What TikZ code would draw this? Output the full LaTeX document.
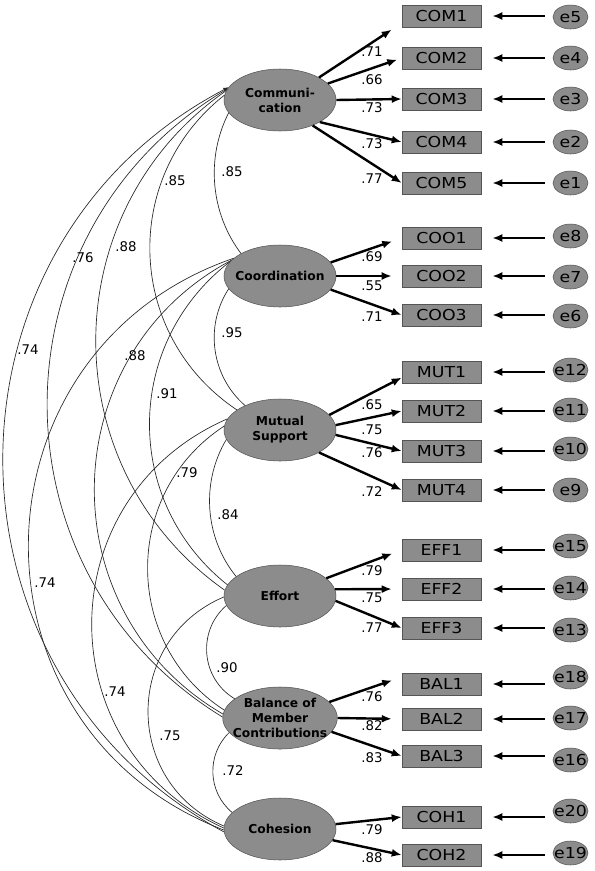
\documentclass[tikz,border=0pt]{standalone}
\usepackage{fontspec}
\setmainfont{DejaVu Sans}
\newfontfamily\boxfont[FakeStretch=1.15]{DejaVu Sans}
\usetikzlibrary{arrows.meta,shapes.geometric}

\definecolor{semgray}{RGB}{140,140,140}
\definecolor{semedge}{RGB}{85,85,85}

\tikzset{
  latent/.style={ellipse, draw=semedge, fill=semgray, minimum width=84pt,
    minimum height=46.5pt, inner xsep=-5pt, inner ysep=-1pt, align=center,
    font=\bfseries\fontsize{9.2}{11.25}\selectfont},
  ind/.style={rectangle, draw=semedge, fill=semgray, minimum width=59.25pt,
    minimum height=16.5pt, inner sep=0pt, font=\boxfont\fontsize{11.3}{13}\selectfont},
  errnode/.style={ellipse, draw=semedge, fill=semgray, minimum width=26.25pt,
    minimum height=18pt, inner xsep=-4pt, inner ysep=0pt,
    font=\boxfont\fontsize{11.3}{13}\selectfont},
  loadarr/.style={line width=1.8pt, -{Latex[length=7.5pt,width=6pt]}},
  errarr/.style={line width=1.6pt, -{Latex[length=7.5pt,width=6pt]},
    shorten <=6pt, shorten >=8.25pt},
  corrarc/.style={line width=0.5pt, black!85},
  numlbl/.style={inner sep=0pt, font=\fontsize{10}{12}\selectfont}
}

\begin{document}
\begin{tikzpicture}[x=0.75pt, y=0.75pt]
  \useasboundingbox (0,0) rectangle (594,-871);

  % latent factors
  \node[latent] (com) at (280,-100) {Communi-\\cation};
  \node[latent] (coo) at (280,-276) {Coordination};
  \node[latent] (mut) at (280,-430) {Mutual\\Support};
  \node[latent] (eff) at (280,-596) {Effort};
  \node[latent] (bal) at (280,-718) {Balance of\\Member\\Contributions};
  \node[latent] (coh) at (280,-829) {Cohesion};

  % indicators and their errors
  \foreach \n/\t/\y/\e/\ey in {com1/COM1/16/e5/17, com2/COM2/58/e4/58,
      com3/COM3/99/e3/99, com4/COM4/142/e2/142, com5/COM5/183/e1/183,
      coo1/COO1/238/e8/236, coo2/COO2/276/e7/277, coo3/COO3/315/e6/316,
      mut1/MUT1/372/e12/370, mut2/MUT2/411/e11/410, mut3/MUT3/451/e10/449,
      mut4/MUT4/490/e9/490, eff1/EFF1/550/e15/546, eff2/EFF2/589/e14/588,
      eff3/EFF3/628/e13/630, bal1/BAL1/684/e18/677, bal2/BAL2/719/e17/718,
      bal3/BAL3/756/e16/760, coh1/COH1/817/e20/811, coh2/COH2/855/e19/853}{
    \node[ind] (\n) at (441.5,-\y) {\t};
    \node[errnode] (\e) at (570.5,-\ey) {\e};
    \draw[errarr] (\n.east -| \e.west) -- (\n.east);
  }

  % loadings
  \draw[loadarr, shorten >=9pt] (com.30) -- (com1.190);
  \draw[loadarr, shorten >=3.5pt] (com.19) -- (com2.west);
  \draw[loadarr] (com.east) -- (com3.west);
  \draw[loadarr] (com.331) -- (com4.west);
  \draw[loadarr] (com.322) -- (com5.west);
  \draw[loadarr, shorten >=7.5pt] (coo.15) -- (coo1.west);
  \draw[loadarr, shorten >=7.5pt] (coo.east) -- (coo2.west);
  \draw[loadarr] (coo.345) -- (coo3.west);
  \draw[loadarr] (mut.17) -- (mut1.188);
  \draw[loadarr] (mut.5) -- (mut2.west);
  \draw[loadarr] (mut.355) -- (mut3.west);
  \draw[loadarr] (mut.330) -- (mut4.west);
  \draw[loadarr, shorten >=7.5pt] (eff.21) -- (eff1.west);
  \draw[loadarr, shorten >=7.5pt] (eff.7) -- (eff2.west);
  \draw[loadarr] (eff.355) -- (eff3.west);
  \draw[loadarr, shorten >=7.5pt] (bal.18) -- (bal1.170);
  \draw[loadarr, shorten >=7.5pt] (bal.east) -- (bal2.west);
  \draw[loadarr] (bal.345) -- (bal3.west);
  \draw[loadarr] (coh.5) -- (coh1.west);
  \draw[loadarr] (coh.348) -- (coh2.west);

  \foreach \v/\y [count=\i] in {.71/52, .66/80, .73/108, .73/144, .77/179,
      .69/257, .55/286, .71/317, .65/405, .75/430, .76/453, .72/492,
      .79/571, .75/598, .77/628, .76/697, .82/726, .83/758, .79/830, .88/858}
    \node[numlbl] (w\i) at (372,-\y) {\v};

  % correlations
  \draw[corrarc] (com.194) to[bend right=32, looseness=0.92] (coo.150);
  \draw[corrarc] (coo.194) to[bend right=41, looseness=0.97] (mut.145);
  \draw[corrarc] (mut.190) to[bend right=35, looseness=0.93] (eff.156);
  \draw[corrarc] (eff.190) to[bend right=54, looseness=1.07] (bal.157);
  \draw[corrarc] (bal.196) to[bend right=48, looseness=1.02] (coh.161);
  \draw[corrarc] (com.175) to[bend right=54, looseness=1.08] (mut.155);
  \draw[corrarc] (coo.164) to[bend right=52, looseness=1.06] (eff.168);
  \draw[corrarc] (mut.176) to[bend right=57, looseness=1.10] (bal.172);
  \draw[corrarc] (eff.181) to[bend right=67, looseness=1.23] (coh.177);
  \draw[corrarc] (com.170) to[bend right=55, looseness=1.08] (eff.174);
  \draw[corrarc] (coo.162) to[bend right=61, looseness=1.14] (bal.176);
  \draw[corrarc] (mut.168) to[bend right=66, looseness=1.22] (coh.179);
  \draw[corrarc] (com.168) to[bend right=59, looseness=1.125] (bal.179);
  \draw[corrarc] (coo.159) to[bend right=70, looseness=1.27] (coh.181);
  \draw[corrarc, {Latex[length=4pt,width=3pt]}-] (com.166) to[bend right=62, looseness=1.155] (coh.183);

  \foreach \v/\x/\y [count=\i] in {.85/232/172, .85/175/181, .88/126/247,
      .76/83/258, .74/28/350, .95/232/333, .91/167/394, .88/135/356,
      .74/45/583, .84/228/515, .79/187/473, .74/115/692, .90/227/668,
      .75/170/736, .72/233/771}
    \node[numlbl] (r\i) at (\x,-\y) {\v};
\end{tikzpicture}
\end{document}
